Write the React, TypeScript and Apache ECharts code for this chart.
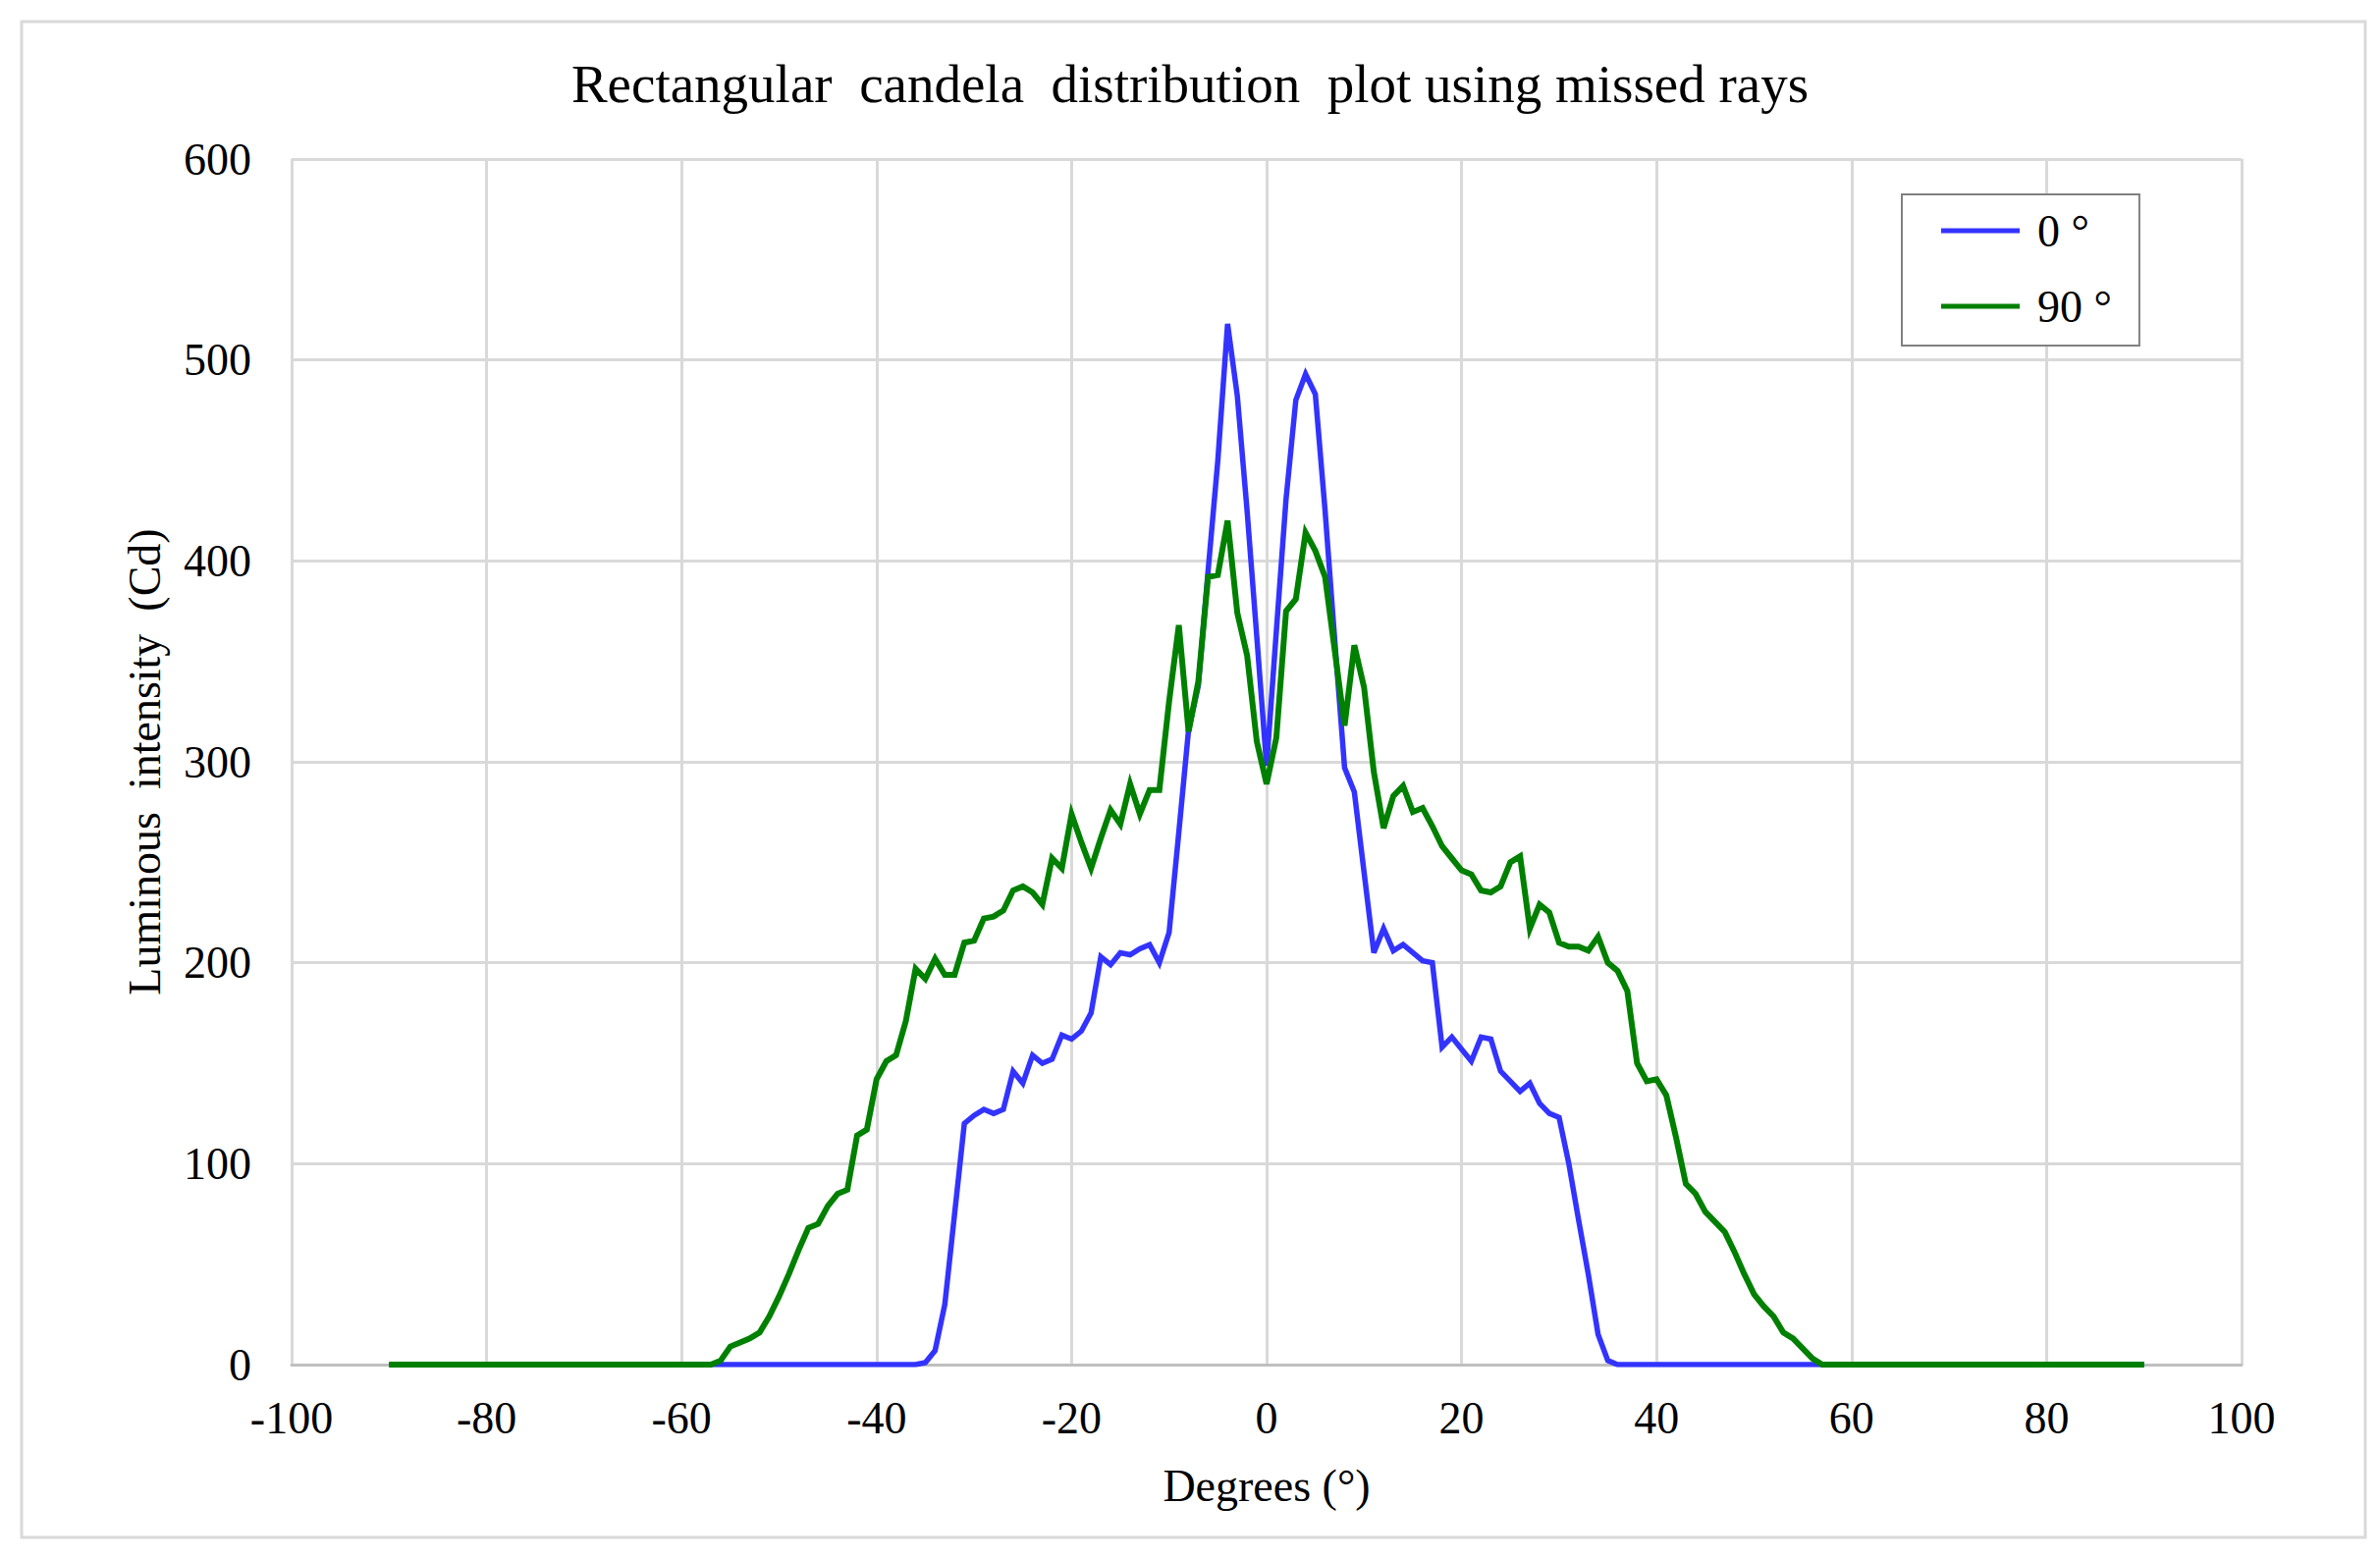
import React, { useEffect, useRef } from "react";
import * as echarts from "echarts";

const TITLE = "Rectangular  candela  distribution  plot using missed rays";
const X_NAME = "Degrees (°)";
const Y_NAME = "Luminous  intensity  (Cd)";
const SERIES_NAMES = ["0 °", "90 °"];
const SERIES_COLORS = ["#3333ff", "#008000"];

const X_START = -90;
const X_STEP = 1;
const X_MIN = -100;
const X_MAX = 100;
const X_INTERVAL = 20;
const Y_MIN = 0;
const Y_MAX = 600;
const Y_INTERVAL = 100;

// Luminous intensity at 0° plane, from -90° to 90° in 1° steps
const INTENSITY_0 = [
  0, 0, 0, 0, 0, 0, 0, 0, 0, 0,
  0, 0, 0, 0, 0, 0, 0, 0, 0, 0,
  0, 0, 0, 0, 0, 0, 0, 0, 0, 0,
  0, 0, 0, 0, 0, 0, 0, 0, 0, 0,
  0, 0, 0, 0, 0, 0, 0, 0, 0, 0,
  0, 0, 0, 0, 0,
  1, 7, 30, 75, 120, 124, 127, 125, 127, 146,
  140, 154, 150, 152, 164, 162, 166, 175, 203, 199,
  205, 204, 207, 209, 200, 215, 265, 316, 338, 395,
  450, 518, 482, 425, 362, 298, 365, 431, 480, 493,
  483, 425, 360, 297, 285, 245, 205, 217, 206, 209,
  205, 201, 200, 158, 163, 157, 151, 163, 162, 146,
  141, 136, 140, 130, 125, 123, 100, 72, 45, 15,
  2,
  0, 0, 0, 0, 0, 0, 0, 0, 0, 0,
  0, 0, 0, 0, 0, 0, 0, 0, 0, 0,
  0, 0, 0, 0, 0, 0, 0, 0, 0, 0,
  0, 0, 0, 0, 0, 0, 0, 0, 0, 0,
  0, 0, 0, 0, 0, 0, 0, 0, 0, 0,
  0, 0, 0, 0, 0,
];

// Luminous intensity at 90° plane, from -90° to 90° in 1° steps
const INTENSITY_90 = [
  0, 0, 0, 0, 0, 0, 0, 0, 0, 0,
  0, 0, 0, 0, 0, 0, 0, 0, 0, 0,
  0, 0, 0, 0, 0, 0, 0, 0, 0, 0,
  0, 0, 0, 0,
  2, 9, 11, 13, 16, 24, 34, 45, 57, 68,
  70, 79, 85, 87, 114, 117, 142, 151, 154, 171,
  197, 192, 202, 194, 194, 210, 211, 222, 223, 226,
  236, 238, 235, 229, 252, 247, 274, 260, 247, 262,
  276, 269, 289, 274, 286, 286, 330, 368, 315, 340,
  392, 393, 420, 374, 353, 310, 289, 312, 375, 381,
  414, 405, 392, 355, 318, 358, 337, 295, 267, 283,
  288, 275, 277, 268, 258, 252, 246, 244, 236, 235,
  238, 250, 253, 217, 229, 225, 210, 208, 208, 206,
  213, 200, 196, 186, 150, 141, 142, 134, 113, 90,
  85, 76, 71, 66, 56, 45, 35, 29, 24, 16,
  13, 8, 3,
  0, 0, 0, 0, 0, 0, 0, 0, 0, 0,
  0, 0, 0, 0, 0, 0, 0, 0, 0, 0,
  0, 0, 0, 0, 0, 0, 0, 0, 0, 0,
  0, 0, 0, 0,
];

const SERIES_VALUES = [INTENSITY_0, INTENSITY_90];

const FONT = '"Liberation Serif", "Times New Roman", serif';

function toPairs(values: number[]) {
  return values.map((v, i) => [X_START + i * X_STEP, v]);
}

export default function App() {
  const ref = useRef<HTMLDivElement>(null);

  useEffect(() => {
    if (!ref.current) return;
    const chart = echarts.init(ref.current, undefined, { renderer: "svg" });
    chart.setOption({
      animation: false,
      backgroundColor: "#ffffff",
      textStyle: { fontFamily: FONT, color: "#000000" },
      title: {
        text: TITLE,
        left: "center",
        top: 53,
        textStyle: {
          fontFamily: FONT,
          fontSize: 55,
          fontWeight: "normal",
          color: "#000000",
        },
      },
      graphic: [
        {
          type: "rect",
          shape: { x: 22, y: 22, width: 2387, height: 1544 },
          style: { fill: "none", stroke: "#d9d9d9", lineWidth: 3 },
          silent: true,
        },
      ],
      legend: {
        orient: "vertical",
        left: 1937,
        top: 198,
        icon: "rect",
        itemWidth: 80,
        itemHeight: 5,
        itemGap: 31,
        padding: [14, 28, 17, 40],
        borderColor: "#808080",
        borderWidth: 2,
        backgroundColor: "#ffffff",
        textStyle: {
          fontFamily: FONT,
          fontSize: 46,
          lineHeight: 46,
          color: "#000000",
          padding: [0, 0, 0, 13],
        },
        data: SERIES_NAMES,
      },
      grid: {
        left: 297,
        right: 141,
        top: 162,
        bottom: 197,
        containLabel: false,
      },
      xAxis: {
        type: "value",
        min: X_MIN,
        max: X_MAX,
        interval: X_INTERVAL,
        name: X_NAME,
        nameLocation: "middle",
        nameGap: 100,
        nameTextStyle: { fontFamily: FONT, fontSize: 46, color: "#000000" },
        axisLine: { show: true, lineStyle: { color: "#bfbfbf", width: 3 } },
        axisTick: { show: false },
        axisLabel: {
          margin: 31,
          fontFamily: FONT,
          fontSize: 46,
          color: "#000000",
        },
        splitLine: { show: true, lineStyle: { color: "#d9d9d9", width: 3 } },
      },
      yAxis: {
        type: "value",
        min: Y_MIN,
        max: Y_MAX,
        interval: Y_INTERVAL,
        name: Y_NAME,
        nameLocation: "middle",
        nameRotate: 90,
        nameGap: 127,
        nameTextStyle: { fontFamily: FONT, fontSize: 46, color: "#000000" },
        axisLine: { show: false },
        axisTick: { show: false },
        axisLabel: {
          margin: 41,
          fontFamily: FONT,
          fontSize: 46,
          color: "#000000",
        },
        splitLine: { show: true, lineStyle: { color: "#d9d9d9", width: 3 } },
      },
      series: SERIES_NAMES.map((name, k) => ({
        name,
        type: "line",
        data: toPairs(SERIES_VALUES[k]),
        symbol: "none",
        showSymbol: false,
        color: SERIES_COLORS[k],
        lineStyle: {
          color: SERIES_COLORS[k],
          width: k === 0 ? 5.5 : 6,
          join: "miter",
          miterLimit: 4,
        },
        z: 2 + k,
      })),
    });
    return () => chart.dispose();
  }, []);

  return (
    <div
      ref={ref}
      style={{ position: "absolute", left: 0, top: 0, width: 2424, height: 1587 }}
    />
  );
}
